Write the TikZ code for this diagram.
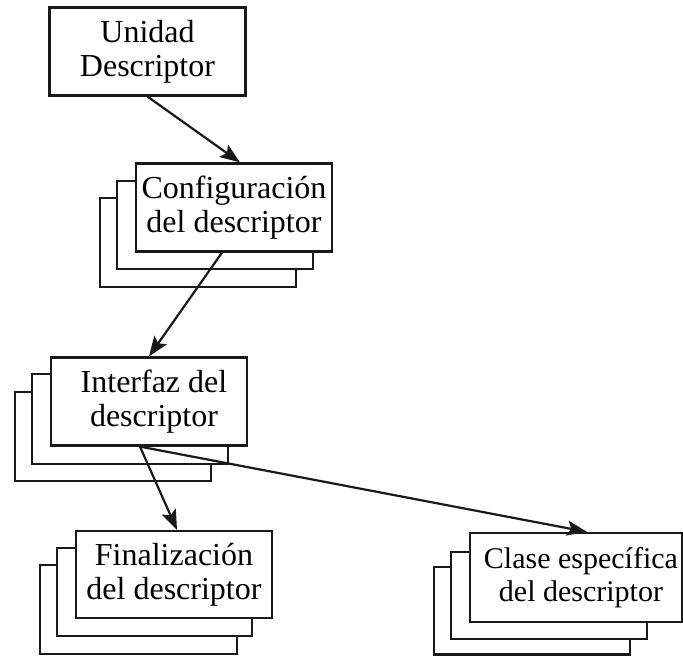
\documentclass[tikz,border=0pt]{standalone}
\usepackage{fontspec}
\setmainfont{Liberation Serif}
\usetikzlibrary{arrows.meta,calc}
\begin{document}
\begin{tikzpicture}[x=1pt,y=-1pt,
  card/.style={draw=black!90, line width=2.2pt, fill=white, inner sep=0pt,
    align=center, minimum width=196pt, minimum height=88pt,
    font=\fontsize{32}{34}\selectfont},
  layer/.style={draw=black!90, line width=2.2pt, fill=white},
  link/.style={draw=black!90, line width=2.2pt,
    -{Stealth[length=20pt,width=15pt,inset=4pt]}}]
\useasboundingbox (0,0) rectangle (683,656);

% top unit
\node[card] (unit) at (147.5,51.5) {Unidad\\Descriptor};

% configuration stack
\draw[layer] (100,198) rectangle (296,287);
\draw[layer] (117,181) rectangle (313,269);
\node[card] (cfg) at (234,207.5) {Configuración\\del descriptor};

% interface stack
\draw[layer] (15,392) rectangle (211,481);
\draw[layer] (32,374) rectangle (228,464);
\node[card] (ifz) at (149,401.5) {\hspace*{10pt}Interfaz del\\\hspace*{10pt}descriptor};

% finalization stack
\draw[layer] (40,565) rectangle (237,654);
\draw[layer] (57,548) rectangle (252,636);
\node[card, minimum height=87pt] (fin) at (174,574.5) {Finalización\\del descriptor};

% class-specific stack
\draw[layer] (434,567) rectangle (630,654.5);
\draw[layer] (451,552) rectangle (647,639);
\node[card, minimum width=212pt, minimum height=89pt,
  font=\fontsize{30}{33}\selectfont] (cls) at (576,577.5)
  {\hspace*{10pt}Clase específica\\\hspace*{10pt}del descriptor};

% connectors
\draw[link] (unit.south) -- ($(cfg.north)+(6,0)$);
\draw[link] ($(cfg.south)+(-12,0)$) -- (ifz.north);
\draw[link] ($(ifz.south)+(-9,0)$) -- ($(fin.north)+(3,0)$);
\draw[link] ($(ifz.south)+(-9,0)$) -- ($(cls.north)+(11,0)$);
\end{tikzpicture}
\end{document}
